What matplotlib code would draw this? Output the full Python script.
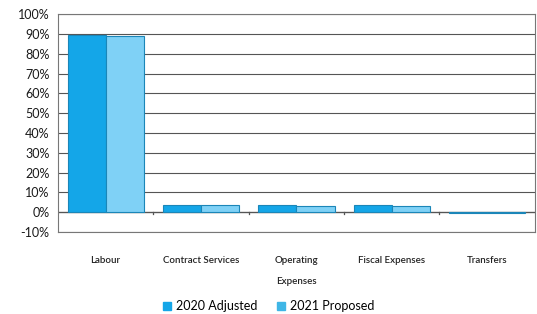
import matplotlib.pyplot as plt
from matplotlib.patches import Patch
import numpy as np

categories = ['Labour', 'Contract Services', 'Operating\nExpenses', 'Fiscal Expenses', 'Transfers']
adjusted_2020 = [89.5, 3.8, 3.8, 3.4, -0.3]
proposed_2021 = [89.0, 3.4, 3.3, 3.3, -0.3]
yticks = np.arange(-10, 101, 10)

plt.rcParams['font.family'] = ['Lato', 'DejaVu Sans']

fig = plt.figure(figsize=(5.37, 3.14), dpi=100)
ax = fig.add_axes([0.108, 0.261, 0.888, 0.694])

c2020 = '#14a6e8'
c2021 = '#7fd1f6'
x = np.arange(len(categories))
w = 0.4
ax.bar(x - w / 2, adjusted_2020, w, color=c2020, edgecolor='#1b86b8', linewidth=0.8, zorder=3)
ax.bar(x + w / 2, proposed_2021, w, color=c2021, edgecolor='#1b86b8', linewidth=0.8, zorder=3)

ax.set_xlim(-0.5, len(categories) - 0.5)
ax.set_ylim(-10, 100)
ax.set_yticks(yticks)
ax.set_yticklabels([f'{v}%' for v in yticks], fontsize=9, color='#1a1a1a')
ax.yaxis.grid(True, color='#555555', linewidth=0.8, zorder=0)
ax.tick_params(axis='y', length=0, pad=6)

ax.set_xticks(x)
ax.set_xticklabels(categories, fontsize=7, color='#222222', linespacing=2.7, va='top',
                   fontweight='semibold')
ax.tick_params(axis='x', length=0, pad=17)
ax.axhline(0, color='#555555', linewidth=0.9, zorder=2)
for b in np.arange(0.5, len(categories) - 0.5, 1):
    ax.plot([b, b], [0, -0.8], color='#555555', linewidth=0.9, clip_on=False, zorder=2)

for s in ax.spines.values():
    s.set_color('#777777')
    s.set_linewidth(0.8)

handles = [Patch(color=c2020, label='2020 Adjusted'), Patch(color='#3fb6e6', label='2021 Proposed')]
fig.legend(handles=handles, loc='lower center', bbox_to_anchor=(0.5, -0.03), ncol=2,
           frameon=False, fontsize=9, handlelength=0.6, handleheight=0.6, handletextpad=0.4,
           columnspacing=1.6)

fig.savefig('out.png', dpi=100)
